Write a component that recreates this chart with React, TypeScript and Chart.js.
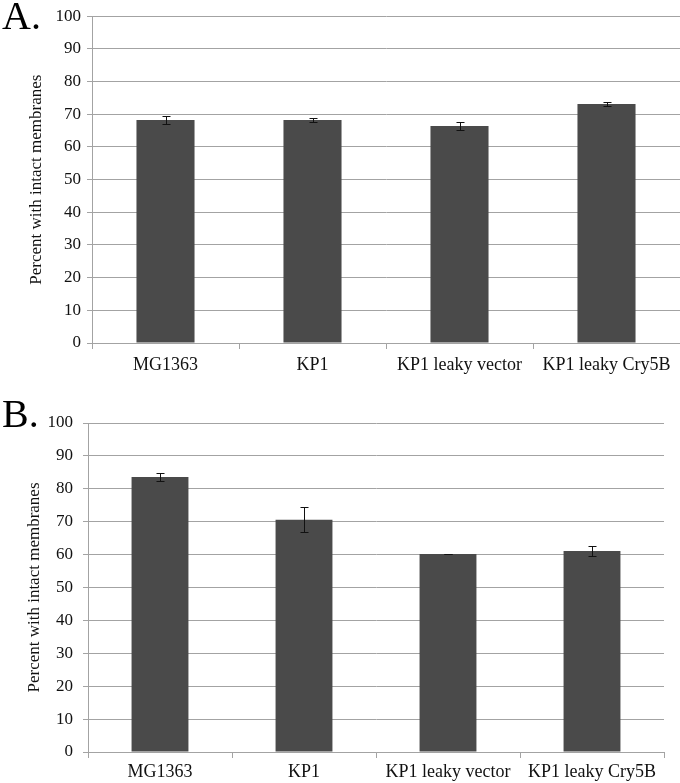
import React, { useEffect, useRef } from "react";
import { Chart, registerables } from "chart.js";

Chart.register(...registerables);

const categories = ["MG1363", "KP1", "KP1 leaky vector", "KP1 leaky Cry5B"];
const valuesA = [68.2, 68.2, 66.4, 73.1];
const errorsA = [1.3, 0.5, 1.2, 0.6];
const valuesB = [83.6, 70.6, 60.2, 61.1];
const errorsB = [1.2, 3.8, 0.1, 1.5];
const yMin = 0;
const yMax = 100;
const yStep = 10;
const yTitle = "Percent with intact membranes";

const FONT = "'Liberation Serif', 'Times New Roman', serif";
const GRID = "#a3a3a3";
const BAR = "#4a4a4a";

const errorBarPlugin = {
  id: "errorBars",
  afterDatasetsDraw(chart: any) {
    const errs: number[] = chart.options.plugins.errorBars?.errors || [];
    const meta = chart.getDatasetMeta(0);
    const ys = chart.scales.y;
    const ctx = chart.ctx;
    const vals = chart.data.datasets[0].data as number[];
    ctx.save();
    ctx.strokeStyle = "#111";
    ctx.lineWidth = 1;
    meta.data.forEach((bar: any, i: number) => {
      const e = errs[i];
      if (e == null) return;
      const x = Math.round(bar.x) + 0.5;
      const yTop = Math.round(ys.getPixelForValue(vals[i] + e)) + 0.5;
      const yBot = Math.round(ys.getPixelForValue(vals[i] - e)) + 0.5;
      ctx.beginPath();
      ctx.moveTo(x, yTop);
      ctx.lineTo(x, yBot);
      ctx.moveTo(x - 4, yTop);
      ctx.lineTo(x + 4, yTop);
      ctx.moveTo(x - 4, yBot);
      ctx.lineTo(x + 4, yBot);
      ctx.stroke();
    });
    ctx.restore();
  },
};

type PanelProps = {
  values: number[];
  errors: number[];
  height: number;
  padTop: number;
  padRight: number;
  yWidth: number;
  xHeight: number;
  xPad: number;
  yPad: number;
  titlePad: number;
};

function BarPanel(props: PanelProps) {
  const ref = useRef<HTMLCanvasElement | null>(null);
  useEffect(() => {
    if (!ref.current) return;
    const chart = new Chart(ref.current, {
      type: "bar",
      data: {
        labels: categories,
        datasets: [
          {
            data: props.values,
            backgroundColor: BAR,
            borderWidth: 0,
            barPercentage: 0.395,
            categoryPercentage: 1,
          },
        ],
      },
      options: {
        animation: false,
        responsive: false,
        maintainAspectRatio: false,
        layout: { padding: { top: props.padTop, right: props.padRight, left: 0, bottom: 0 } },
        plugins: {
          legend: { display: false },
          tooltip: { enabled: false },
          errorBars: { errors: props.errors },
        } as any,
        scales: {
          x: {
            grid: {
              display: true,
              drawOnChartArea: false,
              drawTicks: true,
              tickLength: 6,
              color: GRID,
              offset: true,
            },
            border: { color: GRID },
            ticks: {
              color: "#111",
              font: { family: FONT, size: 18 },
              padding: props.xPad,
              maxRotation: 0,
              autoSkip: false,
            },
            afterFit: (s: any) => {
              s.height = props.xHeight;
            },
          },
          y: {
            min: yMin,
            max: yMax,
            grid: { color: GRID, tickLength: 5 },
            border: { color: GRID },
            ticks: {
              stepSize: yStep,
              color: "#111",
              font: { family: FONT, size: 17 },
              padding: props.yPad,
            },
            title: {
              display: true,
              text: yTitle,
              color: "#111",
              font: { family: FONT, size: 17 },
              padding: { top: props.titlePad, bottom: 0 },
            },
            afterFit: (s: any) => {
              s.width = props.yWidth;
            },
          },
        },
      },
      plugins: [errorBarPlugin],
    });
    return () => chart.destroy();
  }, []);
  return <canvas ref={ref} width={680} height={props.height} style={{ display: "block", width: 680, height: props.height }} />;
}

export default function App() {
  const labelStyle: React.CSSProperties = {
    position: "absolute",
    left: 2,
    fontFamily: FONT,
    fontSize: 40,
    lineHeight: "40px",
    color: "#000",
  };
  return (
    <div style={{ position: "absolute", left: 0, top: 0, width: 680, height: 783, background: "#fff" }}>
      <div style={{ position: "absolute", left: 0, top: 0 }}>
        <BarPanel values={valuesA} errors={errorsA} height={390} padTop={14} padRight={0} yWidth={92} xHeight={47} xPad={5} yPad={6} titlePad={26} />
      </div>
      <div style={{ position: "absolute", left: 0, top: 395 }}>
        <BarPanel values={valuesB} errors={errorsB} height={388} padTop={28} padRight={16} yWidth={88} xHeight={31} xPad={3} yPad={10} titlePad={24} />
      </div>
      <div style={{ ...labelStyle, top: -4 }}>A.</div>
      <div style={{ ...labelStyle, top: 394 }}>B.</div>
    </div>
  );
}
